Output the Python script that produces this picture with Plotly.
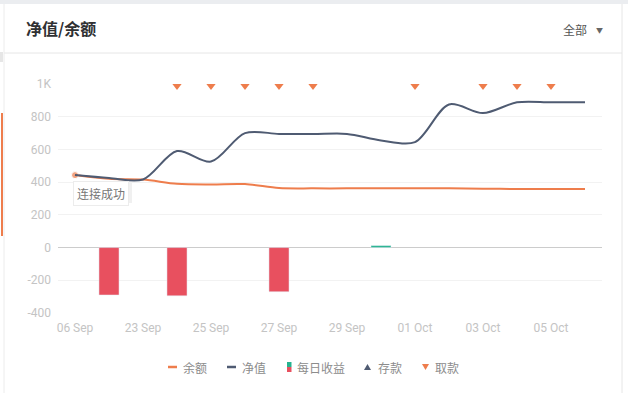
import plotly.graph_objects as go

categories = ["06 Sep", "22 Sep", "23 Sep", "24 Sep", "25 Sep", "26 Sep", "27 Sep", "28 Sep",
              "29 Sep", "30 Sep", "01 Oct", "02 Oct", "03 Oct", "04 Oct", "05 Oct", "06 Oct"]
balance = [443, 420, 416, 390, 386, 388, 364, 362, 362, 362, 362, 362, 360, 358, 358, 358]
net_value = [443, 425, 416, 590, 526, 700, 695, 694, 695, 655, 645, 875, 822, 888, 888, 888]
daily_profit = [None, -290, None, -295, None, None, -270, None, None, 12, None, None, None, None, None, None]
deposit_idx = [3]
withdraw_idx = [3, 4, 5, 6, 7, 10, 12, 13, 14]
y_ticks = [-400, -200, 0, 200, 400, 600, 800, 1000]
y_ticktext = ["-400", "-200", "0", "200", "400", "600", "800", "1K"]

ORANGE = "#ee7d4c"
DARK = "#4f5b72"
RED = "#e8505f"
GREEN = "#26b38f"
AXIS_TXT = "#c4c4c4"
FONT = "Noto Sans CJK SC"

W, H = 628, 393
L, R, T, B = 58, 602, 84, 313


def px(x):
    return (x - L) / (R - L)


def py(y):
    return (B - y) / (B - T)


fig = go.Figure()

fig.add_trace(go.Bar(
    x=categories, y=daily_profit,
    marker=dict(color=[(GREEN if (v is not None and v >= 0) else RED) for v in daily_profit]),
    name="每日收益", showlegend=False, hoverinfo="skip"))

fig.add_trace(go.Scatter(
    x=categories, y=balance, mode="lines+markers", name="余额",
    line=dict(color=ORANGE, width=2, shape="spline", smoothing=0.9),
    marker=dict(size=[7] + [0] * (len(balance) - 1), color=ORANGE),
    showlegend=False, hoverinfo="skip"))

fig.add_trace(go.Scatter(
    x=categories, y=net_value, mode="lines", name="净值",
    line=dict(color=DARK, width=2, shape="spline", smoothing=0.9),
    showlegend=False, hoverinfo="skip"))

fig.add_trace(go.Scatter(
    x=[categories[i] for i in deposit_idx], y=[-412] * len(deposit_idx), mode="markers",
    marker=dict(symbol="triangle-up", size=8, color=DARK), cliponaxis=False,
    showlegend=False, hoverinfo="skip"))

fig.add_trace(go.Scatter(
    x=[categories[i] for i in withdraw_idx], y=[988] * len(withdraw_idx), mode="markers",
    marker=dict(symbol="triangle-down", size=8, color=ORANGE), cliponaxis=False,
    showlegend=False, hoverinfo="skip"))

shapes = []
shapes.append(dict(type="rect", xref="paper", yref="paper", x0=px(0), x1=px(W), y0=py(0), y1=py(4),
                   fillcolor="#ebedf0", line=dict(width=0), layer="below"))
shapes.append(dict(type="line", xref="paper", yref="paper", x0=px(4), x1=px(622), y0=py(53), y1=py(53),
                   line=dict(color="#e6e6e6", width=1)))
shapes.append(dict(type="line", xref="paper", yref="paper", x0=px(622), x1=px(622), y0=py(4), y1=py(H),
                   line=dict(color="#e6e6e6", width=1)))
shapes.append(dict(type="line", xref="paper", yref="paper", x0=px(4), x1=px(4), y0=py(4), y1=py(H),
                   line=dict(color="#ececec", width=1)))
shapes.append(dict(type="rect", xref="paper", yref="paper", x0=px(0), x1=px(3), y0=py(52), y1=py(62),
                   fillcolor="#e6e6e6", line=dict(width=0)))
shapes.append(dict(type="rect", xref="paper", yref="paper", x0=px(1), x1=px(3), y0=py(113), y1=py(236),
                   fillcolor=ORANGE, line=dict(width=0)))
# soft shadow behind the toast
shapes.append(dict(type="rect", xref="paper", yref="paper", x0=px(74), x1=px(132), y0=py(183), y1=py(203),
                   fillcolor="rgba(0,0,0,0.06)", line=dict(width=0)))

annotations = []
annotations.append(dict(text="<b>净值/余额</b>", xref="paper", yref="paper", x=px(24), y=py(28),
                        xanchor="left", yanchor="middle", showarrow=False,
                        font=dict(family=FONT, size=16, color="#303133")))
annotations.append(dict(text="全部", xref="paper", yref="paper", x=px(589), y=py(30),
                        xanchor="right", yanchor="middle", showarrow=False,
                        font=dict(family=FONT, size=12, color="#555555")))
annotations.append(dict(text="▼", xref="paper", yref="paper", x=px(594), y=py(30),
                        xanchor="left", yanchor="middle", showarrow=False,
                        font=dict(family=FONT, size=7, color="#666666")))
annotations.append(dict(text="连接成功", xref="paper", yref="paper", x=px(73), y=py(181),
                        xanchor="left", yanchor="top", showarrow=False,
                        bgcolor="white", bordercolor="#ececec", borderwidth=1, borderpad=3,
                        font=dict(family=FONT, size=12, color="#777777")))

LY = 367
leg_txt = dict(family=FONT, size=12, color="#8c8c8c")
items = [(168, "line", ORANGE, "余额"), (227, "line", DARK, "净值"), (287, "bar", None, "每日收益"),
         (364, "tri-up", DARK, "存款"), (422, "tri-down", ORANGE, "取款")]
for x0, kind, col, label in items:
    if kind == "line":
        shapes.append(dict(type="line", xref="paper", yref="paper", x0=px(x0), x1=px(x0 + 9),
                           y0=py(LY), y1=py(LY), line=dict(color=col, width=2.5)))
        tx = x0 + 13
    elif kind == "bar":
        shapes.append(dict(type="rect", xref="paper", yref="paper", x0=px(x0), x1=px(x0 + 4.5),
                           y0=py(LY - 5), y1=py(LY), fillcolor=GREEN, line=dict(width=0)))
        shapes.append(dict(type="rect", xref="paper", yref="paper", x0=px(x0), x1=px(x0 + 4.5),
                           y0=py(LY), y1=py(LY + 5), fillcolor=RED, line=dict(width=0)))
        tx = x0 + 8
    elif kind == "tri-up":
        shapes.append(dict(type="path", xref="paper", yref="paper",
                           path=f"M {px(x0)} {py(LY + 3)} L {px(x0 + 7)} {py(LY + 3)} L {px(x0 + 3.5)} {py(LY - 3)} Z",
                           fillcolor=col, line=dict(width=0)))
        tx = x0 + 12
    else:
        shapes.append(dict(type="path", xref="paper", yref="paper",
                           path=f"M {px(x0)} {py(LY - 3)} L {px(x0 + 7)} {py(LY - 3)} L {px(x0 + 3.5)} {py(LY + 3)} Z",
                           fillcolor=col, line=dict(width=0)))
        tx = x0 + 11
    annotations.append(dict(text=label, xref="paper", yref="paper", x=px(tx), y=py(LY),
                            xanchor="left", yanchor="middle", showarrow=False, font=leg_txt))

fig.update_layout(
    width=W, height=H,
    margin=dict(l=L, r=W - R, t=T, b=H - B, pad=0),
    paper_bgcolor="white", plot_bgcolor="white",
    bargap=0.41,
    showlegend=False,
    shapes=shapes, annotations=annotations,
    font=dict(family=FONT),
    xaxis=dict(type="category", categoryorder="array", categoryarray=categories,
               tickmode="array", tickvals=categories[::2], ticktext=categories[::2],
               showgrid=False, showline=False, zeroline=False, ticks="",
               tickfont=dict(family="Roboto", size=12, color=AXIS_TXT),
               ticklabelstandoff=6, range=[-0.5, len(categories) - 0.5]),
    yaxis=dict(range=[-400, 1000], tickmode="array", tickvals=y_ticks, ticktext=y_ticktext,
               showgrid=True, gridcolor="#f2f2f2", gridwidth=1,
               zeroline=True, zerolinecolor="#cccccc", zerolinewidth=1,
               showline=False, ticks="",
               tickfont=dict(family="Roboto", size=12, color=AXIS_TXT),
               ticklabelstandoff=6),
)

fig.write_html("out.html", config={"displayModeBar": False},
               post_script="document.body.style.margin='0';document.body.style.overflow='hidden';")
